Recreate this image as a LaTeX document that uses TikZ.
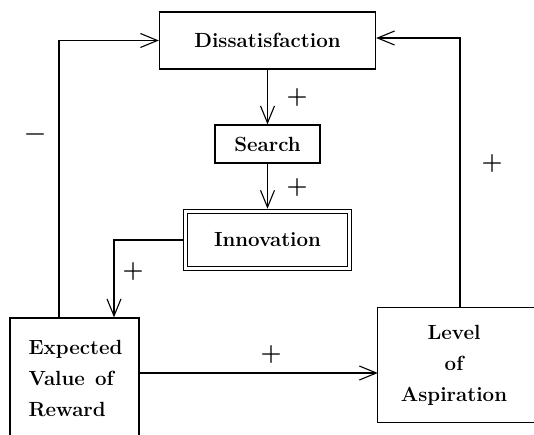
\documentclass[tikz,border=0pt]{standalone}
\usepackage{amsmath, amssymb}
\usepackage{fontspec}
\usetikzlibrary{arrows.meta}
\tikzset{
    txt/.style={font=\bfseries\fontsize{20.5}{31}\selectfont, inner sep=0pt, align=center},
    box/.style={txt, draw, line width=1.3pt},
    sign/.style={font=\bfseries\fontsize{24}{28}\selectfont, inner sep=0pt},
    flow/.style={line width=1.1pt, -{Straight Barb[length=17pt,width=14pt]}}
}

\begin{document}
\begin{tikzpicture}[x=1pt,y=-1pt]
                \clip (0,0) rectangle (534,435);
                \node[box, minimum width=216pt, minimum height=57pt] (dissat) at (267.5,40.5) {Dissatisfaction};
                \node[box, minimum width=105pt, minimum height=38pt] (search) at (267.5,144) {Search};
                \node[box, double, double distance=3pt, outer sep=2.8pt, minimum width=164pt, minimum height=57pt] (innov) at (267.5,240) {Innovation};
                \node[box, text width=92pt, align=left, minimum width=129pt, minimum height=122pt] (reward) at (74.5,379) {Expected\\Value\, of\\Reward};
                \node[txt, minimum width=152pt, minimum height=114pt] (aspir) at (454,365) {Level\\of\\Aspiration};
                % box runs off the right edge
                \draw[line width=1.3pt] (aspir.north west) rectangle ([xshift=40pt]aspir.south east);
                \draw[flow] (dissat) -- (search);
                \draw[flow] (search) -- (innov);
                \draw[flow] (innov.west) -| ([xshift=39.5pt]reward.north);
                \draw[flow] ([yshift=6pt]reward.east) -- ([yshift=6pt]reward.east -| aspir.west);
                \draw[flow] ([xshift=-15.5pt]reward.north) |- (dissat.west);
                \draw[flow] ([xshift=6pt]aspir.north) |- ([yshift=2.5pt]dissat.east);
                \node[sign] (minus) at (35,137) {−};
                \node[sign] (plusA) at (297,98) {+};
                \node[sign] (plusB) at (297,188) {+};
                \node[sign] (plusC) at (133,272) {+};
                \node[sign] (plusD) at (271,355) {+};
                \node[sign] (plusE) at (492,164) {+};
            \end{tikzpicture}
\end{document}
